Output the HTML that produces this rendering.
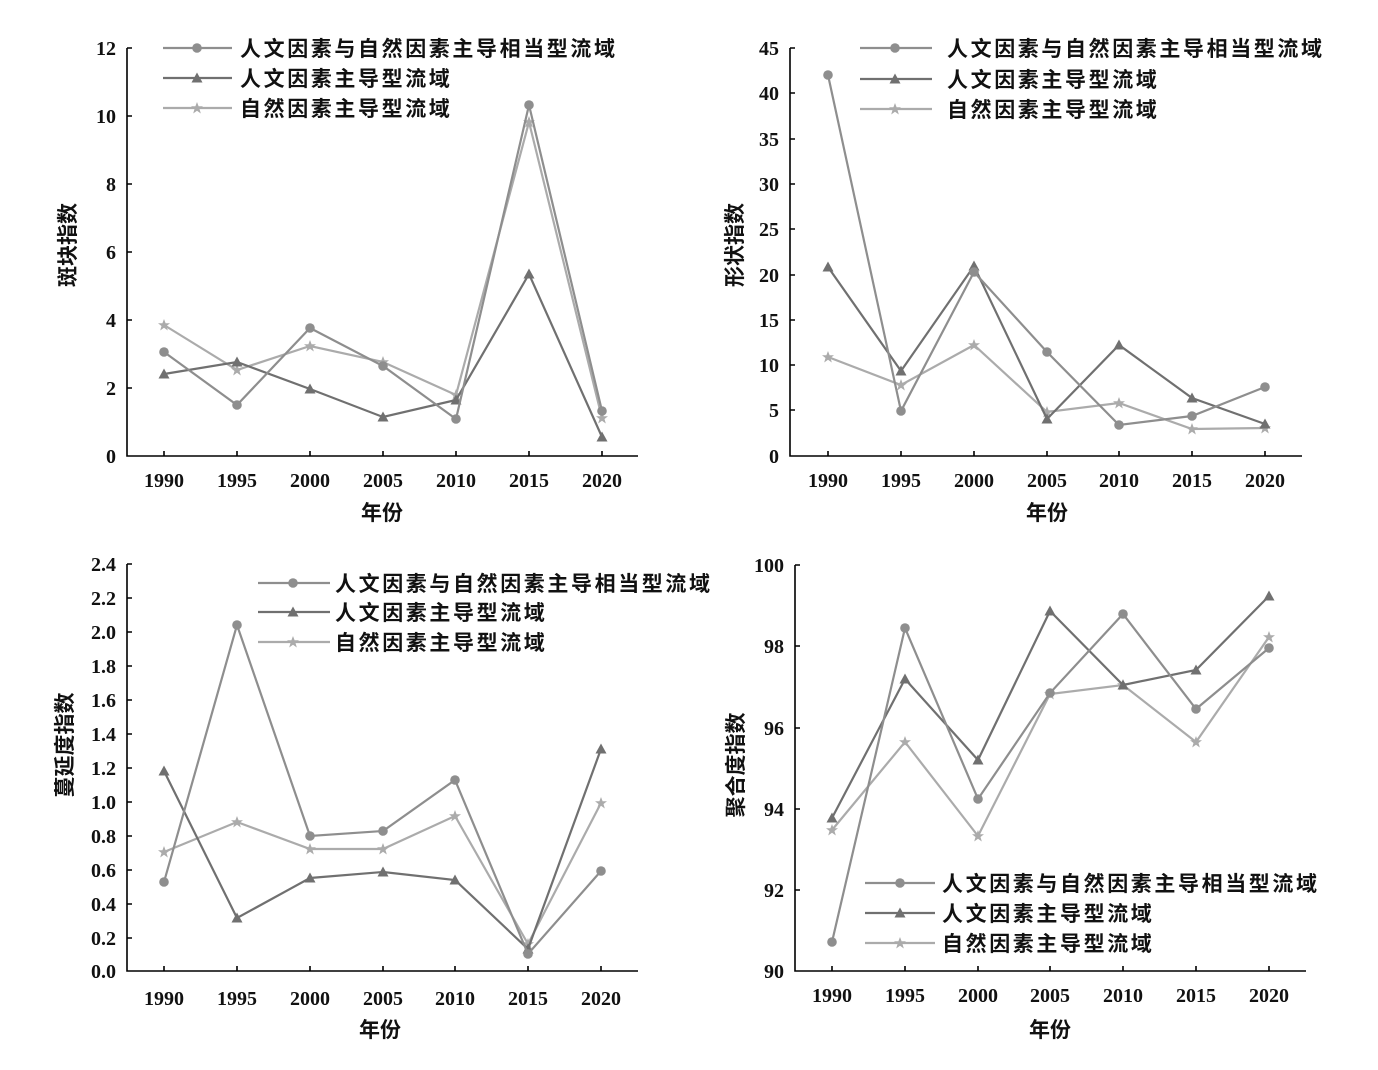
<!DOCTYPE html><html><head><style>body{margin:0;background:#fff}svg{display:block}text{font-family:"Liberation Serif","Noto Serif CJK SC",serif;font-weight:bold;fill:#111}.c,.lc{fill:none;stroke:#8e8e8e;stroke-width:2.2;marker-mid:url(#mc)}.c{marker-start:url(#mc);marker-end:url(#mc)}.t,.lt{fill:none;stroke:#707070;stroke-width:2.2;marker-mid:url(#mt)}.t{marker-start:url(#mt);marker-end:url(#mt)}.s,.ls{fill:none;stroke:#ababab;stroke-width:2.2;marker-mid:url(#ms)}.s{marker-start:url(#ms);marker-end:url(#ms)}.ax{stroke:#000;stroke-width:1.6;fill:none}.tk{font-size:20px}.lg{font-size:21px;letter-spacing:2.6px;font-family:"Noto Sans CJK SC","WenQuanYi Zen Hei",sans-serif}.yl{font-size:21px;font-family:"Noto Sans CJK SC",sans-serif}</style></head><body>
<svg width="1378" height="1070" xmlns="http://www.w3.org/2000/svg">
<defs>
<marker id="mc" markerWidth="12" markerHeight="12" refX="6" refY="6" markerUnits="userSpaceOnUse"><circle cx="6" cy="6" r="4.8" fill="#8e8e8e"/></marker>
<marker id="mt" markerWidth="14" markerHeight="14" refX="7" refY="7" markerUnits="userSpaceOnUse"><polygon points="7,1.5 12.5,11.5 1.5,11.5" fill="#707070"/></marker>
<marker id="ms" markerWidth="14" markerHeight="14" refX="7" refY="7" markerUnits="userSpaceOnUse"><polygon points="7,1 8.6,5.3 13,5.3 9.5,8 10.8,12.5 7,9.8 3.2,12.5 4.5,8 1,5.3 5.4,5.3" fill="#ababab"/></marker>
</defs>
<!-- Panel 1 -->
<path class="ax" d="M127,48V456H638M127,48h5M127,116h5M127,184h5M127,252h5M127,320h5M127,388h5M164,456v-5M237,456v-5M310,456v-5M383,456v-5M456,456v-5M529,456v-5M602,456v-5"/>
<g class="tk" text-anchor="end"><text x="116" y="55">12</text><text x="116" y="123">10</text><text x="116" y="191">8</text><text x="116" y="259">6</text><text x="116" y="327">4</text><text x="116" y="395">2</text><text x="116" y="463">0</text></g>
<g class="tk" text-anchor="middle"><text x="164" y="487">1990</text><text x="237" y="487">1995</text><text x="310" y="487">2000</text><text x="383" y="487">2005</text><text x="456" y="487">2010</text><text x="529" y="487">2015</text><text x="602" y="487">2020</text></g>
<text class="yl" x="382" y="520" text-anchor="middle">年份</text>
<text class="yl" transform="translate(75,245) rotate(-90)" text-anchor="middle">斑块指数</text>
<polyline class="s" points="164,325 237,370 310,346 383,362 456,395 529,122 602,418"/>
<polyline class="t" points="164,374 237,362 310,389 383,417 456,400 529,274 602,437"/>
<polyline class="c" points="164,352 237,405 310,328 383,366 456,419 529,105 602,411"/>
<polyline class="lc" points="163,48 197,48 232,48"/><text class="lg" x="240" y="56">人文因素与自然因素主导相当型流域</text>
<polyline class="lt" points="163,78 197,78 232,78"/><text class="lg" x="240" y="86">人文因素主导型流域</text>
<polyline class="ls" points="163,108 197,108 232,108"/><text class="lg" x="240" y="116">自然因素主导型流域</text>
<!-- Panel 2 -->
<path class="ax" d="M790,48V456H1302M790,48h5M790,93h5M790,139h5M790,184h5M790,229h5M790,275h5M790,320h5M790,365h5M790,410h5M828,456v-5M901,456v-5M974,456v-5M1047,456v-5M1119,456v-5M1192,456v-5M1265,456v-5"/>
<g class="tk" text-anchor="end"><text x="779" y="55">45</text><text x="779" y="100">40</text><text x="779" y="146">35</text><text x="779" y="191">30</text><text x="779" y="236">25</text><text x="779" y="282">20</text><text x="779" y="327">15</text><text x="779" y="372">10</text><text x="779" y="417">5</text><text x="779" y="463">0</text></g>
<g class="tk" text-anchor="middle"><text x="828" y="487">1990</text><text x="901" y="487">1995</text><text x="974" y="487">2000</text><text x="1047" y="487">2005</text><text x="1119" y="487">2010</text><text x="1192" y="487">2015</text><text x="1265" y="487">2020</text></g>
<text class="yl" x="1047" y="520" text-anchor="middle">年份</text>
<text class="yl" transform="translate(742,245) rotate(-90)" text-anchor="middle">形状指数</text>
<polyline class="s" points="828,357 901,385 974,345 1047,412 1119,403 1192,429 1265,428"/>
<polyline class="t" points="828,267 901,371 974,266 1047,419 1119,345 1192,398 1265,424"/>
<polyline class="c" points="828,75 901,411 974,272 1047,352 1119,425 1192,416 1265,387"/>
<polyline class="lc" points="860,48 895,48 932,48"/><text class="lg" x="947" y="56">人文因素与自然因素主导相当型流域</text>
<polyline class="lt" points="860,79 895,79 932,79"/><text class="lg" x="947" y="87">人文因素主导型流域</text>
<polyline class="ls" points="860,109 895,109 932,109"/><text class="lg" x="947" y="117">自然因素主导型流域</text>
<!-- Panel 3 -->
<path class="ax" d="M127,564V971H638M127,564h5M127,598h5M127,632h5M127,666h5M127,700h5M127,734h5M127,768h5M127,802h5M127,836h5M127,870h5M127,904h5M127,938h5M164,971v-5M237,971v-5M310,971v-5M383,971v-5M455,971v-5M528,971v-5M601,971v-5"/>
<g class="tk" text-anchor="end"><text x="116" y="571">2.4</text><text x="116" y="605">2.2</text><text x="116" y="639">2.0</text><text x="116" y="673">1.8</text><text x="116" y="707">1.6</text><text x="116" y="741">1.4</text><text x="116" y="775">1.2</text><text x="116" y="809">1.0</text><text x="116" y="843">0.8</text><text x="116" y="877">0.6</text><text x="116" y="911">0.4</text><text x="116" y="945">0.2</text><text x="116" y="978">0.0</text></g>
<g class="tk" text-anchor="middle"><text x="164" y="1005">1990</text><text x="237" y="1005">1995</text><text x="310" y="1005">2000</text><text x="383" y="1005">2005</text><text x="455" y="1005">2010</text><text x="528" y="1005">2015</text><text x="601" y="1005">2020</text></g>
<text class="yl" x="380" y="1037" text-anchor="middle">年份</text>
<text class="yl" transform="translate(72,745) rotate(-90)" text-anchor="middle">蔓延度指数</text>
<polyline class="s" points="164,852 237,822 310,849 383,849 455,816 528,944 601,803"/>
<polyline class="t" points="164,771 237,918 310,878 383,872 455,880 528,949 601,749"/>
<polyline class="c" points="164,882 237,625 310,836 383,831 455,780 528,954 601,871"/>
<polyline class="lc" points="258,583 293,583 330,583"/><text class="lg" x="335" y="591">人文因素与自然因素主导相当型流域</text>
<polyline class="lt" points="258,612 293,612 330,612"/><text class="lg" x="335" y="620">人文因素主导型流域</text>
<polyline class="ls" points="258,642 293,642 330,642"/><text class="lg" x="335" y="650">自然因素主导型流域</text>
<!-- Panel 4 -->
<path class="ax" d="M795,565V971H1306M795,565h5M795,646h5M795,728h5M795,809h5M795,890h5M832,971v-5M905,971v-5M978,971v-5M1050,971v-5M1123,971v-5M1196,971v-5M1269,971v-5"/>
<g class="tk" text-anchor="end"><text x="784" y="572">100</text><text x="784" y="653">98</text><text x="784" y="735">96</text><text x="784" y="816">94</text><text x="784" y="897">92</text><text x="784" y="978">90</text></g>
<g class="tk" text-anchor="middle"><text x="832" y="1002">1990</text><text x="905" y="1002">1995</text><text x="978" y="1002">2000</text><text x="1050" y="1002">2005</text><text x="1123" y="1002">2010</text><text x="1196" y="1002">2015</text><text x="1269" y="1002">2020</text></g>
<text class="yl" x="1050" y="1037" text-anchor="middle">年份</text>
<text class="yl" transform="translate(743,765) rotate(-90)" text-anchor="middle">聚合度指数</text>
<polyline class="s" points="832,830 905,742 978,836 1050,694 1123,685 1196,742 1269,637"/>
<polyline class="t" points="832,818 905,679 978,760 1050,611 1123,685 1196,670 1269,596"/>
<polyline class="c" points="832,942 905,628 978,799 1050,693 1123,614 1196,709 1269,648"/>
<polyline class="lc" points="865,883 900,883 935,883"/><text class="lg" x="942" y="891">人文因素与自然因素主导相当型流域</text>
<polyline class="lt" points="865,913 900,913 935,913"/><text class="lg" x="942" y="921">人文因素主导型流域</text>
<polyline class="ls" points="865,943 900,943 935,943"/><text class="lg" x="942" y="951">自然因素主导型流域</text>
</svg></body></html>
